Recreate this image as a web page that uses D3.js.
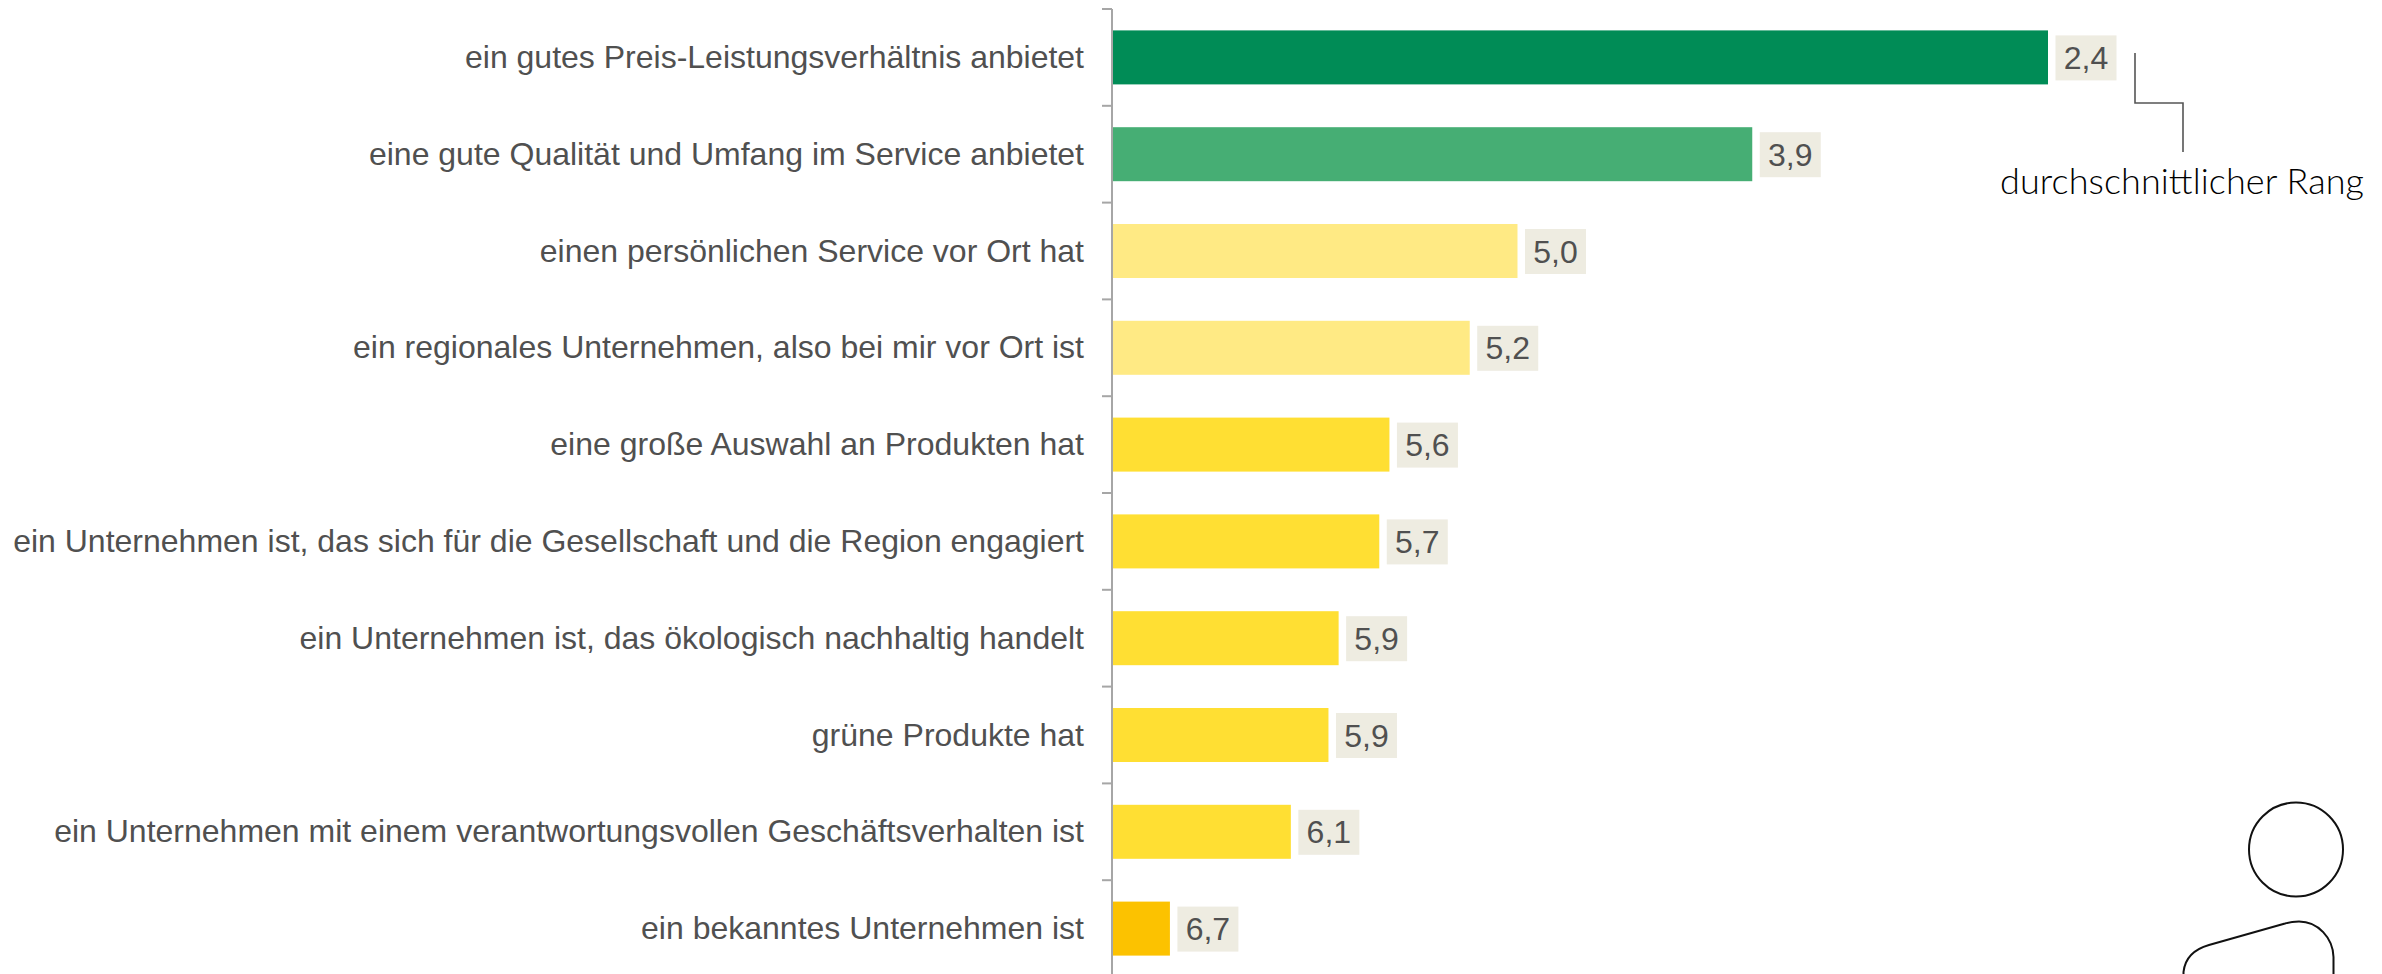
<!DOCTYPE html>
<html lang="de">
<head>
<meta charset="utf-8">
<script src="https://cdn.jsdelivr.net/npm/d3@7"></script>
<style>
html,body{margin:0;padding:0;background:#fff;overflow:hidden}
svg{display:block}
</style>
</head>
<body>
<svg id="chart" width="2382" height="974"></svg>
<script>
const categories = [
  "ein gutes Preis-Leistungsverhältnis anbietet",
  "eine gute Qualität und Umfang im Service anbietet",
  "einen persönlichen Service vor Ort hat",
  "ein regionales Unternehmen, also bei mir vor Ort ist",
  "eine große Auswahl an Produkten hat",
  "ein Unternehmen ist, das sich für die Gesellschaft und die Region engagiert",
  "ein Unternehmen ist, das ökologisch nachhaltig handelt",
  "grüne Produkte hat",
  "ein Unternehmen mit einem verantwortungsvollen Geschäftsverhalten ist",
  "ein bekanntes Unternehmen ist"
];
const values = [2.40, 3.855, 5.01, 5.245, 5.64, 5.69, 5.89, 5.94, 6.125, 6.72];
const barColors = ["#008c56","#46ae74","#ffea84","#ffea84","#ffdf33","#ffdf33","#ffdf33","#ffdf33","#ffdf33","#fcc200"];
const annotation = "durchschnittlicher Rang";

const axisX = 1112, barH = 54, boxW = 61, boxH = 45, boxGap = 7.5;
const svg = d3.select("#chart");
const x = d3.scaleLinear().domain([7, 2.4]).range([axisX + 1, 2048]);
const y = d3.scaleBand().domain(categories).range([9, 977]).padding(0);
const fmt = d3.formatLocale({decimal:",",thousands:".",grouping:[3],currency:["","€"]}).format(".1f");
const rows = categories.map((c,i)=>({c, v:values[i], col:barColors[i]}));
const mid = d => y(d.c) + y.bandwidth()/2;

// bars
svg.append("g").selectAll("rect").data(rows).join("rect")
  .attr("x", x(7)).attr("y", d => mid(d) - barH/2)
  .attr("width", d => x(d.v) - x(7)).attr("height", barH)
  .attr("fill", d => d.col);

// axis
const ag = svg.append("g").attr("transform", `translate(${axisX},0)`);
ag.append("line").attr("y1", 9).attr("y2", 974).attr("stroke", "#a6a6a6").attr("stroke-width", 2);
ag.selectAll("line.t").data(categories.concat(["_end"])).join("line").attr("class","t")
  .attr("x1",-10).attr("x2",0)
  .attr("y1",d=> d==="_end" ? y.range()[1] : y(d))
  .attr("y2",d=> d==="_end" ? y.range()[1] : y(d))
  .attr("stroke","#a6a6a6").attr("stroke-width",2);

// category labels
svg.append("g").selectAll("text").data(rows).join("text")
  .attr("x", 1084).attr("y", d => mid(d) + 10.5)
  .attr("text-anchor","end")
  .attr("font-family","'Liberation Sans',Arial,sans-serif")
  .attr("font-size",32).attr("fill","#505050")
  .text(d => d.c);

// value labels
const vl = svg.append("g").selectAll("g").data(rows).join("g")
  .attr("transform", d => `translate(${x(d.v)+boxGap},${mid(d)+0.5})`);
vl.append("rect").attr("x",0).attr("y",-boxH/2).attr("width",boxW).attr("height",boxH).attr("fill","#eeece1");
vl.append("text").attr("x",boxW/2).attr("y",11).attr("text-anchor","middle")
  .attr("font-family","'Liberation Sans',Arial,sans-serif")
  .attr("font-size",32).attr("fill","#505050")
  .text(d => fmt(d.v));

// annotation
svg.append("path").attr("d", d3.line()([[2135,53],[2135,103],[2183,103],[2183,152]]))
  .attr("fill","none").attr("stroke","#555").attr("stroke-width",1.6);
svg.append("text").attr("x",2000).attr("y",194)
  .attr("font-family","Lato,'Open Sans',sans-serif").attr("font-weight",300).attr("font-size",36).attr("fill","#000")
  .attr("textLength",364).attr("lengthAdjust","spacing")
  .text(annotation);

// person pictogram
svg.append("circle").attr("cx",2296).attr("cy",849.5).attr("r",47)
  .attr("fill","none").attr("stroke","#111").attr("stroke-width",2);
svg.append("path")
  .attr("d","M2183.5,976 L2183.5,972 C2185,958 2195,949 2209,945 L2285,923.5 C2291,921.5 2295,921.5 2299,921.5 C2318,921.5 2333,938 2333.5,957 L2333.5,976")
  .attr("fill","none").attr("stroke","#111").attr("stroke-width",2);
</script>
</body>
</html>
